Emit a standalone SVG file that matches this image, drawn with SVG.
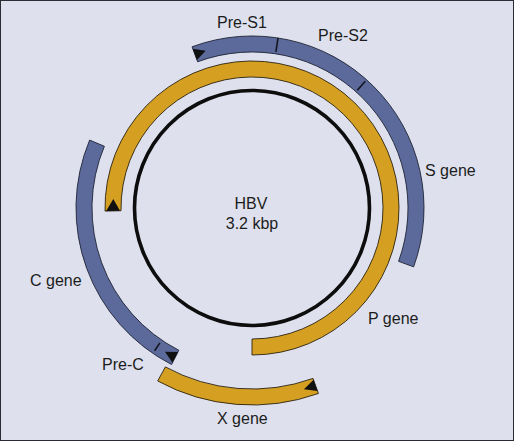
<svg xmlns="http://www.w3.org/2000/svg" width="514" height="441" viewBox="0 0 514 441">
<style>
text{font-family:"Liberation Sans",Arial,sans-serif;font-size:16px;fill:#1c1c1c}
.blue{fill:#5b6a9b;stroke:#1e2233;stroke-width:0.9}
.gold{fill:#d5a021;stroke:#2a2110;stroke-width:0.9}
.tick{stroke:#15151f;stroke-width:1.6;fill:none}
.tri{fill:#111}
</style>
<rect x="0.5" y="0.5" width="513" height="440" fill="#dee1ed" stroke="#2b2b33" stroke-width="1"/>
<g id="genome">
<circle cx="252" cy="208" r="117.5" fill="none" stroke="#0d0d0d" stroke-width="3.6"/>
<text x="251" y="209" text-anchor="middle">HBV</text>
<text x="252" y="229" text-anchor="middle">3.2 kbp</text>
</g>
<g id="p-gene">
<path class="gold" d="M105.03,211.08 A147,147 0 1 1 252,355 L252,339 A131,131 0 1 0 121.03,210.74 Z"/>
<polygon class="tri" points="106.1,211.0 120.0,210.8 113.3,198.9"/>
<text x="368" y="324">P gene</text>
</g>
<g id="s-gene">
<path class="blue" d="M192.05,46.79 A172,172 0 0 1 413.63,266.83 L398.59,261.36 A156,156 0 0 0 197.62,61.78 Z"/>
<line class="tick" x1="278.02" y1="37.98" x2="275.90" y2="51.90"/>
<line class="tick" x1="365.31" y1="81.27" x2="357.31" y2="90.21"/>
<polygon class="tri" points="192.74,48.66 196.93,59.91 205.70,50.67"/>
<text x="217" y="28">Pre-S1</text>
<text x="318" y="41">Pre-S2</text>
<text x="425" y="176">S gene</text>
</g>
<g id="c-gene">
<path class="blue" d="M89.63,140.08 A176,176 0 0 0 171.56,364.54 L178.87,350.31 A160,160 0 0 1 104.39,146.25 Z"/>
<line class="tick" x1="159.9" y1="342.9" x2="154.6" y2="350.8"/>
<polygon class="tri" points="172.48,362.76 177.96,352.09 164.97,351.70"/>
<text x="30" y="286">C gene</text>
<text x="102" y="370">Pre-C</text>
</g>
<g id="x-gene">
<path class="gold" d="M157.70,380.96 A197,197 0 0 0 318.41,393.47 L313.02,378.41 A181,181 0 0 1 165.36,366.91 Z"/>
<polygon class="tri" points="313.52,379.82 317.57,391.12 303.96,389.20"/>
<text x="217" y="424">X gene</text>
</g>
</svg>
